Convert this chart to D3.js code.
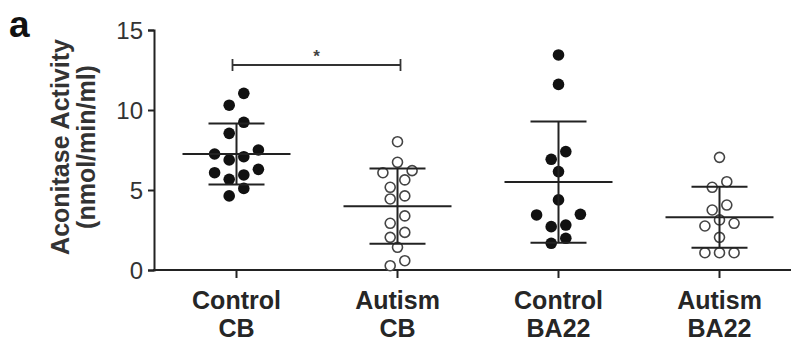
<!DOCTYPE html>
<html>
<head>
<meta charset="utf-8">
<script src="https://cdn.jsdelivr.net/npm/d3@7"></script>
<style>
  body { margin: 0; background: #fff; }
  text { font-family: "Liberation Sans", Arial, sans-serif; }
</style>
</head>
<body>
<div id="chart"></div>
<script>
// groups along the x axis
const categories = ["Control CB", "Autism CB", "Control BA22", "Autism BA22"];
const catLines = [["Control", "CB"], ["Autism", "CB"], ["Control", "BA22"], ["Autism", "BA22"]];
const filled = [true, false, true, false];

// aconitase activity per sample (nmol/min/ml)
const controlCB = [11.04, 10.3, 9.23, 8.54, 7.5, 7.25, 7.08, 6.88, 6.29, 6.08, 5.94, 5.67, 5.10, 4.63];
const autismCB = [8.02, 6.73, 6.21, 6.08, 5.63, 5.17, 4.63, 4.44, 3.38, 2.92, 2.35, 2.04, 1.42, 0.58, 0.27];
const controlBA22 = [13.44, 11.6, 7.40, 6.92, 6.15, 4.38, 3.48, 3.44, 2.81, 2.71, 1.98, 1.67];
const autismBA22 = [7.04, 5.52, 5.17, 4.06, 3.75, 3.13, 2.92, 2.75, 2.04, 1.08, 1.08, 1.08];
const groups = [controlCB, autismCB, controlBA22, autismBA22];

const yTicks = [0, 5, 10, 15];
const sigPair = ["Control CB", "Autism CB"];
const sigLabel = "*";

const W = 791, H = 341;
const axisX = 154;
const ink = "#222";

const svg = d3.select("#chart")
    .append("svg")
    .attr("width", W)
    .attr("height", H);

const y = d3.scaleLinear().domain([0, 15]).range([270, 30]);
const x = d3.scaleBand().domain(categories).range([156, 800]).padding(0);
const cx = c => x(c) + x.bandwidth() / 2;

// y axis
svg.append("g")
    .attr("transform", `translate(${axisX},0)`)
    .call(d3.axisLeft(y).tickValues(yTicks).tickSize(6).tickPadding(5))
    .call(g => g.select(".domain").attr("stroke", ink).attr("stroke-width", 2))
    .call(g => g.selectAll(".tick line").attr("stroke", ink).attr("stroke-width", 2))
    .call(g => g.selectAll(".tick text")
        .attr("font-size", 24)
        .attr("fill", "#333")
        .attr("dy", "0.36em")
        .attr("font-family", "Liberation Sans, Arial, sans-serif"));

// x axis
svg.append("g")
    .attr("transform", `translate(0,${y(0)})`)
    .call(d3.axisBottom(x).tickSize(8).tickFormat(""))
    .call(g => g.select(".domain").remove())
    .call(g => g.selectAll(".tick line").attr("stroke", ink).attr("stroke-width", 2));

svg.append("line")
    .attr("x1", axisX - 1).attr("x2", W)
    .attr("y1", y(0)).attr("y2", y(0))
    .attr("stroke", ink).attr("stroke-width", 2);

// category labels
categories.forEach((c, i) => {
    const t = svg.append("text")
        .attr("x", cx(c))
        .attr("y", 309)
        .attr("text-anchor", "middle")
        .attr("font-size", 25)
        .attr("font-weight", "bold")
        .attr("fill", "#262626");
    catLines[i].forEach((ln, k) => {
        t.append("tspan").attr("x", cx(c)).attr("dy", k === 0 ? 0 : 28).text(ln);
    });
});

// y axis title
const yt = svg.append("text")
    .attr("transform", "translate(69,147) rotate(-90)")
    .attr("text-anchor", "middle")
    .attr("font-size", 25)
    .attr("font-weight", "bold")
    .attr("fill", "#333");
yt.append("tspan").attr("x", 0).attr("dy", 0).text("Aconitase Activity");
yt.append("tspan").attr("x", 0).attr("dy", 26).text("(nmol/min/ml)");

// panel letter
svg.append("text")
    .attr("x", 9).attr("y", 37)
    .attr("font-size", 37)
    .attr("font-weight", "bold")
    .attr("fill", "#111")
    .text("a");

// simple row-based swarm: points close in value share a row and spread sideways
const step = 14.6;
function swarm(values) {
    const sorted = values.map((v, i) => ({v, i})).sort((a, b) => b.v - a.v);
    const rows = [];
    sorted.forEach(p => {
        const row = rows[rows.length - 1];
        if (row && row[0].v - p.v < 0.8) row.push(p);
        else rows.push([p]);
    });
    const out = [];
    rows.forEach(row => {
        const n = row.length;
        const offs = d3.range(n).map(k => (k - (n - 1) / 2) * step);
        offs.sort((a, b) => Math.abs(b) - Math.abs(a) || b - a);
        if (n % 2 === 1) offs.unshift(offs.pop());
        row.forEach((p, k) => out.push({v: p.v, dx: offs[k]}));
    });
    return out;
}

categories.forEach((c, i) => {
    const vals = groups[i];
    const pts = swarm(vals);
    svg.append("g")
        .selectAll("circle")
        .data(pts)
        .join("circle")
        .attr("cx", d => cx(c) + d.dx)
        .attr("cy", d => y(d.v))
        .attr("r", filled[i] ? 5.8 : 5)
        .attr("fill", filled[i] ? "#111" : "#fff")
        .attr("stroke", filled[i] ? "none" : "#444")
        .attr("stroke-width", 1.6);

    const m = d3.mean(vals), s = d3.deviation(vals);
    const g = svg.append("g").attr("stroke", ink).attr("stroke-width", 2);
    g.append("line")
        .attr("x1", cx(c) - 54).attr("x2", cx(c) + 54)
        .attr("y1", y(m)).attr("y2", y(m));
    g.append("line")
        .attr("x1", cx(c)).attr("x2", cx(c))
        .attr("y1", y(m + s)).attr("y2", y(m - s));
    [m + s, m - s].forEach(v => {
        g.append("line")
            .attr("x1", cx(c) - 28).attr("x2", cx(c) + 28)
            .attr("y1", y(v)).attr("y2", y(v));
    });
});

// significance bracket
const bx1 = cx(sigPair[0]) - 4, bx2 = cx(sigPair[1]) + 3, by = 65;
const br = svg.append("g").attr("stroke", "#333").attr("stroke-width", 1.8);
br.append("line").attr("x1", bx1).attr("x2", bx2).attr("y1", by).attr("y2", by);
[bx1, bx2].forEach(bx => br.append("line").attr("x1", bx).attr("x2", bx).attr("y1", by - 6).attr("y2", by + 6));
svg.append("text")
    .attr("x", (bx1 + bx2) / 2)
    .attr("y", 62)
    .attr("text-anchor", "middle")
    .attr("font-size", 17)
    .attr("font-weight", "bold")
    .attr("fill", "#444")
    .text(sigLabel);
</script>
</body>
</html>
